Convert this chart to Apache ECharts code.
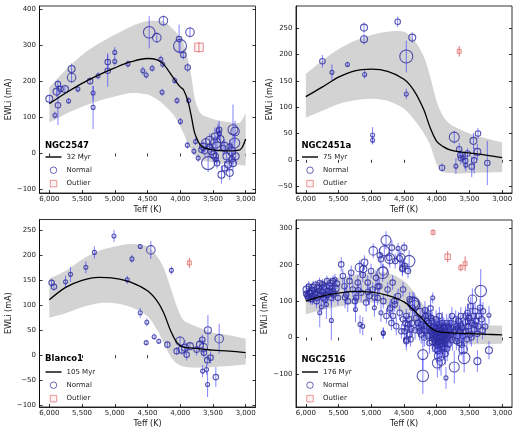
<!DOCTYPE html>
<html><head><meta charset="utf-8">
<script src="https://cdn.jsdelivr.net/npm/echarts/dist/echarts.min.js"></script>
<style>html,body{margin:0;padding:0;background:#fff}#c{width:520px;height:433px}</style>
</head><body><div id="c"></div>
<script>
// ---------------- DATA ----------------
const teffTicks = [3000, 3500, 4000, 4500, 5000, 5500, 6000];
const ngc2547Ticks = [-100, 0, 100, 200, 300, 400];
const ngc2451aTicks = [-50, 0, 50, 100, 150, 200, 250];
const blanco1Ticks = [-100, -50, 0, 50, 100, 150, 200, 250];
const ngc2516Ticks = [-100, 0, 100, 200, 300];

const clusterNames = ['NGC2547', 'NGC2451a', 'Blanco1', 'NGC2516'];
const clusterAges = ['32 Myr', '75 Myr', '105 Myr', '176 Myr'];

// model curves and dispersion bands (Teff, EWLi)
const ngc2547ModelTeff = [6000,5750,5500,5250,5000,4750,4500,4350,4250,4100,4000,3950,3880,3830,3780,3730,3680,3600,3500,3400,3250,3100,3050,3000];
const ngc2547Model = [138,168,195,218,238,255,264,260,247,209,185,177,144,103,57,35,21,14,10,8,7,9,18,40];
const ngc2547Upper = [184,232,274,305,330,353,368,369,367,344,322,307,260,215,155,125,110,102,96,91,87,85,95,112];
const ngc2547Lower = [86,110,130,146,158,168,164,150,135,107,75,57,25,10,-5,-13,-18,-22,-25,-27,-30,-32,-33,-34];

const ngc2451aModelTeff = [6000,5750,5500,5250,5000,4750,4500,4350,4200,4100,4000,3900,3800,3650,3500,3250,3000];
const ngc2451aModel = [120,138,157,169,172,168,153,132,96,61,35,25,19,15,13,9,4];
const ngc2451aUpper = [163,188,210,226,237,243,243,228,197,158,110,82,68,58,50,41,33];
const ngc2451aLower = [80,93,106,113,116,112,97,77,51,28,-8,-23,-25,-26,-25,-24,-23];

const blanco1ModelTeff = [6000,5750,5500,5250,5000,4750,4500,4350,4250,4150,4050,3950,3800,3650,3500,3250,3000];
const blanco1Model = [111,136,150,156,154,146,129,108,84,50,25,16,14,12,10,8,5];
const blanco1Upper = [153,169,192,209,218,223,218,198,174,136,97,70,60,52,45,40,33];
const blanco1Lower = [75,84,96,104,104,96,78,50,24,-2,-17,-23,-25,-25,-24,-22,-19];

const ngc2516ModelTeff = [6000,5750,5500,5250,5000,4750,4500,4350,4250,4100,4000,3800,3500,3250,3000];
const ngc2516Model = [100,114,122,127,125,116,98,75,57,28,17,13,11,9,7];
const ngc2516Upper = [142,155,164,172,177,178,155,125,100,70,55,42,36,34,33];
const ngc2516Lower = [63,76,85,93,96,88,65,40,22,-5,-15,-18,-19,-18,-17];

// stars: [Teff, EWLi, error, weight]
const ngc2547Stars = [
[6000,152,12,3],[5914,106,10,1],[5889,172,15,3],[5868,193,12,2],[5868,134,55,2],[5828,179,12,2],
[5762,179,10,3],[5706,146,8,1],[5660,235,15,3],[5660,211,15,4],[5564,179,10,1],[5377,201,10,2],
[5331,168,20,1],[5331,128,60,1],[5255,216,10,1],[5108,254,25,2],[5108,230,45,2],[5000,281,15,1],
[5000,256,12,1],[4799,249,10,1],[4571,230,12,1],[4520,218,10,1],[4474,337,45,6],[4358,322,15,4],
[4429,237,10,1],[4297,262,10,1],[4267,248,10,1],[4257,369,15,4],[4277,170,10,1],[4084,203,10,1],
[4049,147,10,1],[4018,318,40,2],[4003,299,20,7],[3998,89,10,1],[3952,274,12,2],[3886,239,12,2],
[3851,337,15,4],[3871,147,10,1],[3891,23,10,1],
[3791,6,10,1],[3766,33,10,1],[3726,-13,10,1],[3574,-27,25,7],[3548,36,20,4],[3472,47,25,3],
[3457,29,20,5],[3437,20,20,4],[3406,66,25,2],[3386,40,20,3],[3457,-8,15,2],[3437,-27,15,2],
[3370,-59,25,3],[3320,-41,20,2],[3294,-8,20,3],[3269,-31,20,3],[3218,6,25,4],[3194,66,70,5],
[3162,61,30,4],[3168,29,25,5],[3194,-27,20,3],[3244,-54,20,3],[3624,6,15,2],[3675,10,10,2],
[3650,19,15,3],[3522,6,20,3],[3497,-3,20,3],[3447,-16,15,1],[3345,15,20,2],[3244,19,20,2],
[3548,19,15,2],[3609,29,15,4],[3422,63,20,1],[3400,55,20,1],[3320,19,20,4],[3153,-8,20,3],[3210,-16,20,2]
];
const ngc2547Outliers = [[3714,295,15,4]];

const ngc2451aStars = [
[5747,187,12,2],[5601,166,15,1],[5364,181,5,1],[5111,251,10,3],[5111,229,10,3],[5101,162,8,1],
[4980,47,15,1],[4980,37,8,1],[4596,262,10,2],[4465,196,30,7],[4374,232,10,3],[4465,125,10,1],
[3919,-15,8,2],[3732,43,12,5],[3707,-12,15,1],[3657,20,12,2],[3641,9,10,2],[3631,3,12,2],
[3566,-2,15,2],[3556,-10,12,1],[3530,12,10,2],[3465,-13,20,2],[3439,36,15,3],[3429,-1,25,2],
[3379,15,15,3],[3369,50,10,2],[3227,-6,42,2],[3596,4,10,1]
];
const ngc2451aOutliers = [[3657,206,10,1]];

const blanco1Stars = [
[5965,145,8,2],[5929,137,8,2],[5752,147,12,1],[5676,162,15,1],[5442,176,12,1],[5311,206,12,1],
[5012,239,12,1],[4809,151,8,1],[4738,193,8,1],[4611,218,5,1],[4449,211,18,4],[4611,85,10,1],
[4510,66,8,1],[4520,25,5,1],[4398,37,6,1],[4327,28,5,1],[4196,21,6,2],[4135,170,8,1],
[4054,8,8,2],[4003,28,10,4],[3978,11,10,3],[3927,15,15,3],[3902,1,12,2],[3851,18,8,3],
[3750,11,12,2],[3699,21,10,3],[3663,31,10,2],[3648,15,15,4],[3638,5,10,2],[3658,-32,12,1],
[3598,-29,10,1],[3587,-10,10,2],[3577,50,30,3],[3582,-59,25,1],[3537,-5,12,2],[3456,-44,20,2],[3405,33,30,4]
];
const blanco1Outliers = [[3861,185,10,1]];

const ngc2516Stars = [
[5989,132,15,3],[5964,109,12,2],[5939,123,15,2],[5913,114,12,2],[5888,137,18,3],[5863,120,12,2],
[5848,141,15,4],[5828,109,20,2],[5797,128,15,2],[5776,117,15,2],[5746,146,15,2],[5736,132,20,4],
[5711,105,25,2],[5696,118,20,2],[5676,155,15,2],[5656,128,20,2],[5636,141,15,3],[5610,109,20,2],
[5610,47,55,1],[5585,155,15,2],[5575,118,20,2],[5545,135,15,3],[5525,148,15,2],[5510,109,20,2],
[5762,84,20,1],[5686,91,40,1],[5787,68,40,1],[5838,100,20,2],[5898,105,15,2],[5949,120,15,3],
[5978,115,12,2],[5870,130,12,2],[5720,140,12,2],[5600,135,15,2],[5555,160,15,1],
[5995,120,15,2],[5955,140,15,2],[5925,105,15,2],[5905,128,15,3],[5880,112,15,2],[5815,135,15,3],
[5790,150,15,2],[5755,125,15,2],[5730,110,20,2],[5660,118,20,2],[5625,150,15,2],[5590,125,20,3],
[5459,201,20,2],[5434,169,20,2],[5409,141,20,2],[5383,118,25,2],[5358,100,30,2],[5332,155,20,2],
[5307,178,20,2],[5282,132,20,2],[5241,77,35,1],[5231,109,25,2],[5206,151,20,2],[5181,192,20,4],
[5155,123,25,2],[5130,172,20,2],[5105,206,20,3],[5130,31,25,1],[5079,96,25,2],[5054,151,20,2],
[5029,114,25,2],[5003,183,20,2],[4978,132,20,2],[4953,82,25,1],[4928,164,20,2],[4902,109,20,2],
[4877,141,20,2],[4852,215,20,2],[4852,68,25,1],[4826,178,25,6],[4816,100,20,2],[4801,238,20,5],
[4775,267,25,5],[4750,132,20,2],[4725,219,20,2],[4710,82,25,2],[4685,247,20,2],[4674,151,20,2],
[4649,100,20,2],[4634,210,20,2],[4816,13,15,1],[4548,219,20,4],[4523,192,20,2],[4497,247,15,2],
[4421,210,30,6],[4345,93,30,6],[4370,82,25,2],[4970,238,20,4],[4869,226,20,2],[4717,217,25,5],
[4566,218,20,2],[4818,183,20,4],[5121,188,20,3],[4591,245,15,1],[5172,36,25,1],[4618,31,25,2],[4465,-10,25,2],
[5400,110,30,2],[5250,100,30,2],[5200,130,25,2],[5050,125,25,2],[4950,110,25,2],[4900,140,25,2],
[4490,17,20,2],[4465,-6,20,2],[4439,36,20,2],[4414,8,20,2],[4389,24,20,2],[4465,59,20,2],
[4515,50,20,2],[4566,68,20,2],[4540,17,20,2],[4667,59,20,2],[4717,77,20,2],[4768,59,20,2],
[4818,11,15,1],[4692,40,20,2],[4641,91,20,2],[4591,114,20,2],[4515,132,20,2],[4414,105,20,2],
[4439,183,20,2],[4490,197,20,2],[4525,188,20,2],
[4480,40,20,2],[4450,25,20,2],[4420,50,20,2],[4400,-5,20,2],[4380,40,20,2],[4330,20,25,2],
[4364,96,30,6],[4338,88,25,5],[4313,54,25,2],[4288,40,25,2],[4273,27,25,2],[4263,17,25,2],
[4253,68,25,4],[4237,8,25,2],[4222,50,25,2],[4212,-47,40,5],[4212,-105,50,6],[4187,31,25,2],
[4172,59,25,2],[4162,22,25,3],[4136,4,25,2],[4121,40,25,2],[4111,-15,30,2],[4101,17,25,2],
[4086,54,25,2],[4071,-1,30,2],[4061,109,15,1],[4051,31,25,2],[4035,13,30,4],[4020,-15,30,2],
[4010,50,25,2],[4000,-29,35,4],[3985,22,30,5],[3975,4,30,5],[3960,-51,40,5],[3960,59,25,2],
[3950,-15,35,4],[3934,-65,40,4],[3919,8,30,5],[3909,31,25,2],[3899,-6,30,2],[3884,-29,35,2],
[3869,17,25,2],[3859,-111,30,1],[3848,40,25,2],[3833,4,30,2],[3818,-19,30,2],[3808,22,25,2],
[3783,8,30,2],[3768,59,25,2],[3758,-6,30,2],[3732,-81,45,5],[3717,22,25,2],[3697,31,25,2],
[3682,4,25,2],[3667,45,25,2],[3657,-15,30,2],[3646,17,25,2],[3631,59,25,2],[3616,27,25,2],
[3606,4,25,2],[3596,-33,35,4],[3581,-56,40,6],[3566,42,25,2],[3556,17,25,2],[3530,68,25,2],
[3515,31,25,2],[3505,54,25,2],[3490,8,25,2],[3480,86,25,2],[3465,40,25,2],[3455,105,30,4],
[3444,59,25,2],[3429,22,25,2],[3414,72,25,2],[3404,45,25,2],[3379,-65,30,3],[3364,31,25,2],
[3354,59,25,2],[3338,82,25,2],[3328,128,60,6],[3313,50,25,2],[3293,72,25,2],[3202,61,25,1],[3202,-35,25,3],
[4040,5,30,3],[4005,0,30,3],[3975,15,30,3],[3950,0,30,2],[3925,20,30,2],[3905,-10,30,2],
[3895,8,30,2],[3880,12,30,2],[3860,-5,30,2],[3990,-20,30,3],[3965,35,30,2],[3915,40,30,2],
[4085,20,25,2],[4150,45,25,2],[4190,0,25,2],[3990,-70,40,5],[3870,-45,30,2],[3790,40,25,2],
[3740,15,25,2],[3700,-10,25,2],[3620,-20,30,2],[3540,-5,30,2],[3470,0,25,2],[3420,35,25,2],
[3380,10,25,2],[3300,20,25,2],[3260,30,25,2],
[4060,-10,30,3],[4045,25,30,3],[4025,-5,30,3],[4015,20,30,4],[3995,10,30,4],[3980,-35,35,3],
[3970,-10,30,3],[3955,25,30,3],[3940,5,30,3],[3930,-25,35,3],[3912,-15,30,3],[3890,25,30,3],
[3875,-15,30,2],[3850,10,30,2],[3840,-30,35,2],[3825,30,25,2],[3800,0,30,2],[3775,25,25,2],
[4130,60,25,2],[4095,80,25,2],[4070,45,25,2],[4180,75,25,2],[4240,35,25,2],[4200,20,25,2],
[3710,50,25,2],[3675,25,25,2],[3640,35,25,2],[3590,15,30,2],[3560,60,25,2],[3520,45,25,2]
];
const ngc2516Outliers = [[4056,289,8,1],[3833,222,15,2],[3631,192,10,1],[3566,203,20,1]];

// ---------------- CHART ----------------
const FONT = 'DejaVu Sans';
const panels = [
  {teff: ngc2547ModelTeff, model: ngc2547Model, up: ngc2547Upper, lo: ngc2547Lower, stars: ngc2547Stars, out: ngc2547Outliers, ticks: ngc2547Ticks, ymin: -110, ymax: 410},
  {teff: ngc2451aModelTeff, model: ngc2451aModel, up: ngc2451aUpper, lo: ngc2451aLower, stars: ngc2451aStars, out: ngc2451aOutliers, ticks: ngc2451aTicks, ymin: -63, ymax: 292},
  {teff: blanco1ModelTeff, model: blanco1Model, up: blanco1Upper, lo: blanco1Lower, stars: blanco1Stars, out: blanco1Outliers, ticks: blanco1Ticks, ymin: -104, ymax: 272},
  {teff: ngc2516ModelTeff, model: ngc2516Model, up: ngc2516Upper, lo: ngc2516Lower, stars: ngc2516Stars, out: ngc2516Outliers, ticks: ngc2516Ticks, ymin: -191, ymax: 323}
];
const layout = [
  {left: 39.5, top: 6, width: 216, height: 187, yGap: 24.5, titleTop: 141, legTop: 153.5},
  {left: 296, top: 6, width: 216, height: 187, yGap: 21.5, titleTop: 141, legTop: 153.5},
  {left: 39.5, top: 219.5, width: 216, height: 187.5, yGap: 24.5, titleTop: 354.5, legTop: 368.5},
  {left: 296, top: 220, width: 216, height: 187, yGap: 25, titleTop: 355, legTop: 368.5}
];
const CIRCLE = '#2e2e9c', ERR = 'rgba(50,50,255,0.6)', OUT = '#e07070', BAND = '#d3d3d3';
const minusFmt = v => (v < 0 ? '\u2212' + (-v) : String(v));
const tickStyle = {color: '#000', width: 0.8};

const grid = [], xAxis = [], yAxis = [], series = [], title = [], legend = [];
panels.forEach((p, i) => {
  const L = layout[i];
  grid.push({left: L.left, top: L.top, width: L.width, height: L.height, show: true, borderColor: '#000', borderWidth: 0.8, backgroundColor: 'transparent'});
  xAxis[i] = {gridIndex: i, type: 'value', min: 2850, max: 6150, inverse: true, position: 'bottom',
    axisLine: {show: true, onZero: false, lineStyle: tickStyle},
    axisTick: {show: true, inside: true, length: 3, customValues: teffTicks, lineStyle: tickStyle},
    axisLabel: {customValues: teffTicks, fontSize: 7, color: '#222', margin: 3, fontFamily: FONT},
    splitLine: {show: false},
    name: 'Teff (K)', nameLocation: 'middle', nameGap: 12.5, nameTextStyle: {fontSize: 8, color: '#222', fontFamily: FONT}};
  xAxis[i + 4] = {gridIndex: i, type: 'value', min: 2850, max: 6150, inverse: true, position: 'top',
    axisLine: {show: false}, axisLabel: {show: false}, splitLine: {show: false},
    axisTick: {show: true, inside: true, length: 3, customValues: teffTicks, lineStyle: tickStyle}};
  yAxis[i] = {gridIndex: i, type: 'value', min: p.ymin, max: p.ymax, position: 'left',
    axisLine: {show: true, onZero: false, lineStyle: tickStyle},
    axisTick: {show: true, inside: true, length: 3, customValues: p.ticks, lineStyle: tickStyle},
    axisLabel: {customValues: p.ticks, fontSize: 7, color: '#222', margin: 3.5, fontFamily: FONT, formatter: minusFmt},
    splitLine: {show: false},
    name: 'EWLi (mA)', nameLocation: 'middle', nameGap: L.yGap, nameRotate: 90, nameTextStyle: {fontSize: 8, color: '#222', fontFamily: FONT}};
  yAxis[i + 4] = {gridIndex: i, type: 'value', min: p.ymin, max: p.ymax, position: 'right',
    axisLine: {show: false}, axisLabel: {show: false}, splitLine: {show: false},
    axisTick: {show: true, inside: true, length: 3, customValues: p.ticks, lineStyle: tickStyle}};

  // dispersion band
  series.push({type: 'custom', xAxisIndex: i, yAxisIndex: i, silent: true, z: 1, data: [0],
    renderItem: (params, api) => {
      const pts = [];
      pts.push(api.coord([p.teff[0], p.up[0]]));
      for (let k = 0; k < p.teff.length; k++) pts.push(api.coord([p.teff[k], p.up[k]]));
      const n = p.teff.length - 1;
      pts.push(api.coord([p.teff[n], p.up[n]]));
      pts.push(api.coord([p.teff[n], p.lo[n]]));
      for (let k = n; k >= 0; k--) pts.push(api.coord([p.teff[k], p.lo[k]]));
      pts.push(api.coord([p.teff[0], p.lo[0]]));
      return {type: 'polygon', shape: {points: pts, smooth: 0.3}, style: {fill: BAND, stroke: null}};
    }});
  // error bars
  const errRender = color => (params, api) => {
    const x = api.value(0), y = api.value(1), e = api.value(2);
    const a = api.coord([x, y - e]), b = api.coord([x, y + e]);
    return {type: 'line', shape: {x1: a[0], y1: a[1], x2: b[0], y2: b[1]}, style: {stroke: color, lineWidth: 1}};
  };
  series.push({type: 'custom', xAxisIndex: i, yAxisIndex: i, silent: true, z: 2, clip: true,
    data: p.stars, encode: {x: 0, y: 1}, renderItem: errRender(ERR)});
  series.push({type: 'custom', xAxisIndex: i, yAxisIndex: i, silent: true, z: 2, clip: true,
    data: p.out, encode: {x: 0, y: 1}, renderItem: errRender(OUT)});
  series.push({name: 'Normal', type: 'scatter', xAxisIndex: i, yAxisIndex: i, z: 3, silent: true,
    data: p.stars, symbol: 'circle', symbolSize: v => 2.5 + v[3] * 1.5,
    itemStyle: {color: 'rgba(0,0,0,0)', borderColor: CIRCLE, borderWidth: 1.1}});
  series.push({name: 'Outlier', type: 'scatter', xAxisIndex: i, yAxisIndex: i, z: 3, silent: true,
    data: p.out, symbol: 'rect', symbolSize: v => 2.5 + v[3] * 1.5,
    itemStyle: {color: 'rgba(255,190,190,0.25)', borderColor: OUT, borderWidth: 1}});
  series.push({name: clusterAges[i], type: 'line', xAxisIndex: i, yAxisIndex: i, z: 4, silent: true,
    data: p.teff.map((t, k) => [t, p.model[k]]), smooth: 0.35, symbol: 'none',
    lineStyle: {color: '#000', width: 1.3}, itemStyle: {color: '#000'}});

  title.push({text: clusterNames[i], left: L.left + 5.5, top: L.titleTop, padding: 0,
    textStyle: {fontSize: 8.5, fontWeight: 'bold', color: '#000', fontFamily: FONT}});
  legend.push({orient: 'vertical', left: L.left + 6, top: L.legTop, padding: 0, itemGap: 6,
    itemWidth: 16, itemHeight: 6.5, selectedMode: false,
    textStyle: {fontSize: 7, color: '#222', fontFamily: FONT},
    data: [
      {name: clusterAges[i], icon: 'path://M0 0h16v1.4h-16z', itemStyle: {color: '#000', borderWidth: 0}},
      {name: 'Normal', icon: 'circle', itemStyle: {color: 'rgba(0,0,0,0)', borderColor: CIRCLE, borderWidth: 0.9}},
      {name: 'Outlier', icon: 'path://M0 0h10v10h-10z', itemStyle: {color: 'rgba(255,190,190,0.25)', borderColor: OUT, borderWidth: 0.9}}
    ]});
});

const chart = echarts.init(document.getElementById('c'));
chart.setOption({animation: false, backgroundColor: '#fff', grid, xAxis, yAxis, series, title, legend});
</script>
</body></html>
